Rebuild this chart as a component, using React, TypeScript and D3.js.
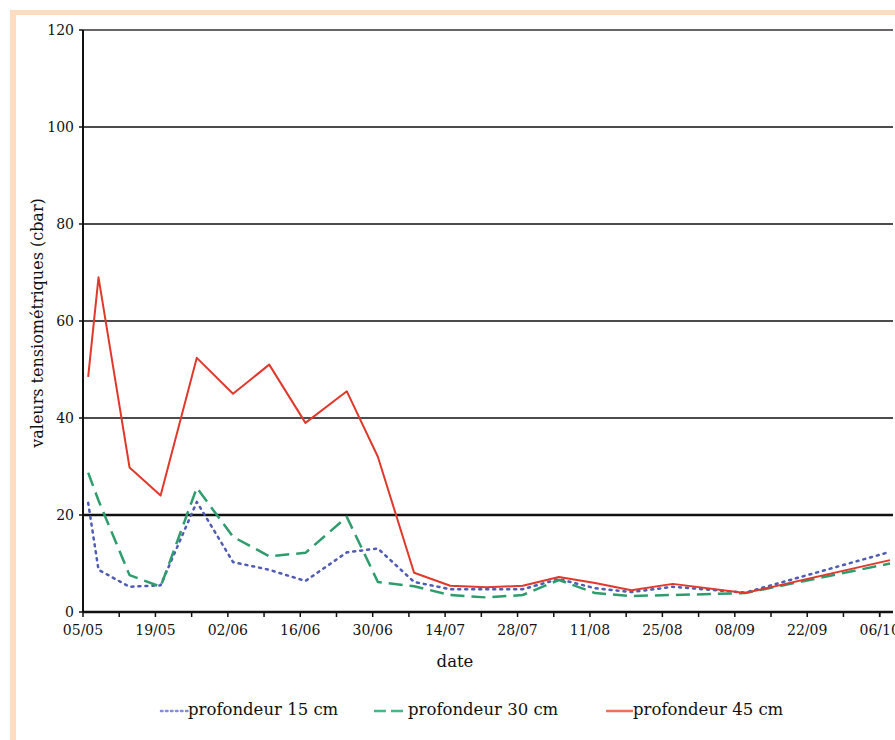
import React, { useRef, useEffect } from 'react';
import * as d3 from 'd3';

// dates of the readings (dd/mm)
const dates = ['06/05', '08/05', '14/05', '20/05', '27/05', '03/06', '10/06', '17/06', '25/06', '01/07', '08/07',
  '15/07', '22/07', '29/07', '05/08', '12/08', '19/08', '27/08', '10/09', '08/10'];

const prof15 = [22.5, 8.7, 5.2, 5.5, 22.7, 10.3, 8.7, 6.4, 12.3, 13.1, 6.2, 4.7, 4.7, 4.7, 6.8, 4.9, 4.1, 5.2, 4.0, 12.4];
const prof30 = [28.7, 23, 7.6, 5.2, 25.6, 15.5, 11.5, 12.2, 19.6, 6.2, 5.3, 3.5, 3.0, 3.5, 6.6, 3.9, 3.3, 3.5, 3.9, 10.0];
const prof45 = [48.5, 69, 29.8, 24, 52.4, 45, 51, 39, 45.5, 32, 8.1, 5.4, 5.1, 5.4, 7.2, 6.0, 4.5, 5.8, 3.9, 10.7];

const yTicks = [0, 20, 40, 60, 80, 100, 120];
const seriesNames = ['profondeur 15 cm', 'profondeur 30 cm', 'profondeur 45 cm'];

const W = 895, H = 740;
const margin = { l: 83, t: 30, r: 2, b: 128 };
const font = '"DejaVu Serif", serif';

const parse = (s: string) => {
  const [d, m] = s.split('/').map(Number);
  return new Date(2000, m - 1, d);
};

export default function App() {
  const svgRef = useRef<SVGSVGElement>(null);

  useEffect(() => {
    const svg = d3.select(svgRef.current);
    svg.selectAll('*').remove();

    const start = parse('05/05');
    const end = parse('08/10');
    const x = d3.scaleTime().domain([start, end]).range([margin.l, 890]);
    const y = d3.scaleLinear().domain([0, 120]).range([H - margin.b, margin.t]);
    const right = W - margin.r;

    // frame
    svg.append('rect').attr('x', 10).attr('y', 10).attr('width', W - 10).attr('height', 5).attr('fill', '#fddcbf');
    svg.append('rect').attr('x', 10).attr('y', 10).attr('width', 6).attr('height', H - 10).attr('fill', '#fddcbf');

    // grid lines
    svg.append('g').selectAll('line').data(yTicks.filter(d => d > 0)).join('line')
      .attr('x1', margin.l).attr('x2', right)
      .attr('y1', d => y(d)).attr('y2', d => y(d))
      .attr('stroke', d => d === 120 ? '#6a6666' : '#111')
      .attr('stroke-width', d => d === 20 ? 2.5 : d === 120 ? 2 : 1.5);

    // y axis
    const yAxis = svg.append('g');
    yAxis.append('line').attr('x1', margin.l).attr('x2', margin.l).attr('y1', y(120)).attr('y2', y(0))
      .attr('stroke', '#111').attr('stroke-width', 2);
    yAxis.selectAll('.tk').data(yTicks).join('line')
      .attr('x1', margin.l - 4).attr('x2', margin.l).attr('y1', d => y(d)).attr('y2', d => y(d))
      .attr('stroke', '#111').attr('stroke-width', 1.5);
    yAxis.selectAll('text').data(yTicks).join('text')
      .attr('x', margin.l - 9).attr('y', d => y(d)).attr('dy', '0.36em')
      .attr('text-anchor', 'end').attr('font-family', font).attr('font-size', 14).attr('fill', '#111')
      .text(d => d);

    // x axis
    const xAxis = svg.append('g');
    xAxis.append('line').attr('x1', margin.l).attr('x2', right).attr('y1', y(0)).attr('y2', y(0))
      .attr('stroke', '#111').attr('stroke-width', 2.5);
    const minor = d3.timeDay.range(start, end, 7).concat([d3.timeDay.offset(start, 154)]);
    xAxis.selectAll('.tk').data(minor).join('line')
      .attr('x1', d => x(d)).attr('x2', d => x(d)).attr('y1', y(0)).attr('y2', y(0) + 5)
      .attr('stroke', '#111').attr('stroke-width', 1.5);
    const major = minor.filter((d, i) => i % 2 === 0);
    xAxis.selectAll('text').data(major).join('text')
      .attr('x', d => x(d)).attr('y', y(0) + 23)
      .attr('text-anchor', 'middle').attr('font-family', font).attr('font-size', 14).attr('fill', '#111')
      .text(d => d3.timeFormat('%d/%m')(d));

    // axis titles
    svg.append('text').attr('transform', `translate(43,${(y(0) + y(120)) / 2 + 2}) rotate(-90)`)
      .attr('text-anchor', 'middle').attr('font-family', font).attr('font-size', 16).attr('fill', '#111')
      .text('valeurs tensiométriques (cbar)');
    svg.append('text').attr('x', 455).attr('y', 667)
      .attr('text-anchor', 'middle').attr('font-family', font).attr('font-size', 16.5).attr('fill', '#111')
      .text('date');

    const series = [
      { name: seriesNames[0], vals: prof15, color: '#4f5bb5', dash: '2,5', w: 2.5, cap: 'round', lcolor: '#8090d8' },
      { name: seriesNames[1], vals: prof30, color: '#2e9c6c', dash: '14,7', w: 2.5, cap: 'butt', lcolor: '#3dbb88' },
      { name: seriesNames[2], vals: prof45, color: '#e0392b', dash: null, w: 2, cap: 'butt', lcolor: '#f07058' }
    ];

    const line = d3.line<number>()
      .x((d, i) => x(parse(dates[i])))
      .y(d => y(d));

    svg.append('g').selectAll('path').data(series).join('path')
      .attr('d', d => line(d.vals))
      .attr('fill', 'none')
      .attr('stroke', d => d.color)
      .attr('stroke-width', d => d.w)
      .attr('stroke-dasharray', d => d.dash)
      .attr('stroke-linecap', d => d.cap)
      .attr('stroke-linejoin', 'round');

    // legend
    const legX = [160, 373, 605];
    const leg = svg.append('g').selectAll('g').data(series).join('g')
      .attr('transform', (d, i) => `translate(${legX[i]},715)`);
    leg.append('line').attr('x1', 1).attr('x2', (d, i) => i === 1 ? 32 : 28).attr('y1', -4).attr('y2', -4)
      .attr('stroke', d => d.lcolor).attr('stroke-width', 2.5)
      .attr('stroke-dasharray', (d, i) => i === 0 ? '1.5,3.5' : i === 1 ? '12,5' : null)
      .attr('stroke-linecap', d => d.cap);
    leg.append('text').attr('x', (d, i) => i === 1 ? 35 : 28).attr('y', 0)
      .attr('font-family', font).attr('font-size', 16.5).attr('fill', '#111')
      .text(d => d.name);
  }, []);

  return (
    <svg ref={svgRef} width={W} height={H} style={{ position: 'absolute', left: 0, top: 0, background: '#fff' }} />
  );
}
